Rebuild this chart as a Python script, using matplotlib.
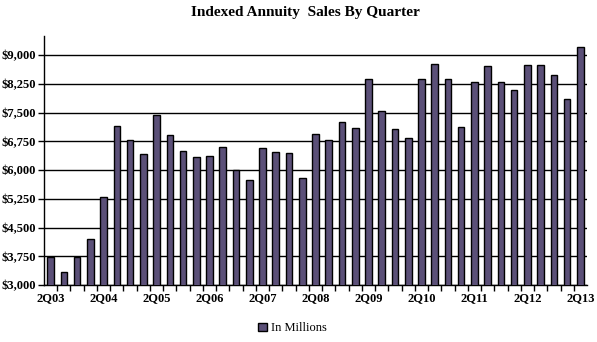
import matplotlib
matplotlib.use("Agg")
import matplotlib.pyplot as plt
from matplotlib.ticker import FixedLocator, FuncFormatter

plt.rcParams["font.family"] = ["Liberation Serif", "DejaVu Serif"]

# quarterly sales, $ millions, 2Q03 .. 2Q13
quarters = []
for yr in range(3, 14):
    for q in (1, 2, 3, 4):
        if (yr == 3 and q < 2) or (yr == 13 and q > 2):
            continue
        quarters.append(f"{q}Q{yr:02d}")

sales = [3740, 3330, 3735, 4195, 5295, 7150, 6785, 6420, 7440, 6925,
         6495, 6340, 6365, 6600, 6000, 5740, 6575, 6470, 6445, 5790,
         6935, 6775, 7245, 7110, 8390, 7555, 7060, 6825, 8390, 8780,
         8365, 7130, 8290, 8705, 8290, 8080, 8730, 8730, 8470, 7845,
         9200]

yticks = [3000, 3750, 4500, 5250, 6000, 6750, 7500, 8250, 9000]

fig = plt.figure(figsize=(5.97, 3.42), dpi=100)
ax = fig.add_axes([44 / 597, 1 - 285 / 342, 543 / 597, 249 / 342])

x = list(range(len(sales)))
ax.bar(x, sales, width=0.5, color="#5b5078", edgecolor="black", linewidth=1,
       label="In Millions", zorder=3)

ax.set_ylim(3000, 9500)
ax.set_xlim(-0.5, len(sales) - 0.5)
ax.set_yticks(yticks)
ax.yaxis.set_major_formatter(FuncFormatter(lambda v, p: f"${v:,.0f}"))
ax.yaxis.grid(True, color="black", linewidth=1, zorder=0)

label_pos = [i for i, q in enumerate(quarters) if q.startswith("2Q")]
ax.set_xticks(label_pos)
ax.set_xticklabels([quarters[i] for i in label_pos])
ax.xaxis.set_minor_locator(FixedLocator([i + 0.5 for i in range(len(sales) - 1)]))
ax.tick_params(axis="x", which="major", length=0, pad=5)
ax.tick_params(axis="x", which="minor", length=4, width=1, direction="out")
ax.tick_params(axis="y", length=4, width=1, direction="out", pad=2)
for lbl in ax.get_xticklabels() + ax.get_yticklabels():
    lbl.set_fontsize(9)
    lbl.set_fontweight("bold")

ax.spines["top"].set_visible(False)
ax.spines["right"].set_visible(False)
ax.spines["left"].set_linewidth(1)
ax.spines["bottom"].set_linewidth(1)

fig.text(0.512, 0.963, "Indexed Annuity  Sales By Quarter", ha="center", va="center",
         fontsize=11, fontweight="bold")

leg = fig.legend(loc="center", bbox_to_anchor=(0.49, 0.04), frameon=False,
                 fontsize=9, handlelength=0.7, handleheight=0.7, handletextpad=0.3)

fig.savefig("out.png", dpi=100)
